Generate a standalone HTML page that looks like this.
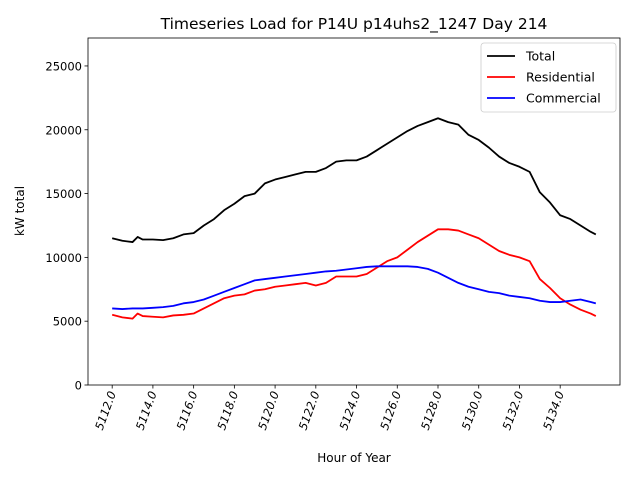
<!DOCTYPE html>
<html><head><meta charset="utf-8"><style>
body{margin:0;background:#fff;font-family:"DejaVu Sans","Liberation Sans",sans-serif;}
svg text{font-family:"DejaVu Sans","Liberation Sans",sans-serif;}
</style></head><body>
<svg id="chart" width="640" height="480" xmlns="http://www.w3.org/2000/svg"></svg>
<script>
const hours=[5112,5112.5,5113,5113.25,5113.5,5114,5114.5,5115,5115.5,5116,5116.5,5117,5117.5,5118,5118.5,5119,5119.5,5120,5120.5,5121,5121.5,5122,5122.5,5123,5123.5,5124,5124.5,5125,5125.5,5126,5126.5,5127,5127.5,5128,5128.5,5129,5129.5,5130,5130.5,5131,5131.5,5132,5132.5,5133,5133.5,5134,5134.5,5135,5135.5,5135.75];
const totalLoad=[11500,11300,11200,11600,11400,11400,11350,11500,11800,11900,12500,13000,13700,14200,14800,15000,15800,16100,16300,16500,16700,16700,17000,17500,17600,17600,17900,18400,18900,19400,19900,20300,20600,20900,20600,20400,19600,19200,18600,17900,17400,17100,16700,15100,14300,13300,13000,12500,12000,11800];
const residentialLoad=[5500,5300,5200,5600,5400,5350,5300,5450,5500,5600,6000,6400,6800,7000,7100,7400,7500,7700,7800,7900,8000,7800,8000,8500,8500,8500,8700,9200,9700,10000,10600,11200,11700,12200,12200,12100,11800,11500,11000,10500,10200,10000,9700,8300,7600,6800,6300,5900,5600,5400];
const commercialLoad=[6000,5950,6000,6000,6000,6050,6100,6200,6400,6500,6700,7000,7300,7600,7900,8200,8300,8400,8500,8600,8700,8800,8900,8950,9050,9150,9250,9300,9300,9300,9300,9250,9100,8800,8400,8000,7700,7500,7300,7200,7000,6900,6800,6600,6500,6500,6600,6700,6500,6400];
const xTicks=[5112,5114,5116,5118,5120,5122,5124,5126,5128,5130,5132,5134];
const yTicks=[0,5000,10000,15000,20000,25000];
const L=88,R=620,T=38,B=385;
const xmin=5110.8125,xmax=5136.9375,ymin=0,ymax=27190;
const sx=v=>L+(v-xmin)/(xmax-xmin)*(R-L);
const sy=v=>B-(v-ymin)/(ymax-ymin)*(B-T);
const NS="http://www.w3.org/2000/svg";
const svg=document.getElementById('chart');
function mk(tag,attrs,parent){const e=document.createElementNS(NS,tag);for(const k in attrs)e.setAttribute(k,attrs[k]);(parent||svg).appendChild(e);return e;}
let e=mk('text',{x:354,y:29,'text-anchor':'middle','font-size':15.5});
e.textContent='Timeseries Load for P14U p14uhs2_1247  Day 214';


const series=[[totalLoad,'#000','total-line'],[residentialLoad,'#f00','residential-line'],[commercialLoad,'#00f','commercial-line']];
series.forEach(s=>{
  const p=mk('polyline',{points:hours.map((h,i)=>sx(h)+','+sy(s[0][i])).join(' '),fill:'none',stroke:s[1],'stroke-width':1.8,'stroke-linejoin':'round'});
  
  
});
const frame=mk('rect',{x:L,y:T,width:R-L,height:B-T,fill:'none',stroke:'#000','stroke-width':0.8});


xTicks.forEach(t=>{
  const x=sx(t);
  mk('line',{x1:x,x2:x,y1:B,y2:B+3.5,stroke:'#000','stroke-width':0.8});
  const tx=mk('text',{transform:`translate(${x+4},${B+8}) rotate(-70)`,'text-anchor':'end','font-size':11.5,'font-style':'italic'});
  tx.textContent=t.toFixed(1);
  
  
});
yTicks.forEach(t=>{
  const y=sy(t);
  mk('line',{x1:L-3.5,x2:L,y1:y,y2:y,stroke:'#000','stroke-width':0.8});
  const tx=mk('text',{x:L-6,y:y+4.5,'text-anchor':'end','font-size':11.5});
  tx.textContent=t;
  
  
});
e=mk('text',{x:354,y:462,'text-anchor':'middle','font-size':12});
e.textContent='Hour of Year';


e=mk('text',{transform:'translate(24,211) rotate(-90)','text-anchor':'middle','font-size':12});
e.textContent='kW total';


const lg=mk('g',{});


mk('rect',{x:481,y:43,width:135,height:69,rx:3,fill:'#fff',stroke:'#ccc','stroke-width':0.8},lg);
[['Total','#000'],['Residential','#f00'],['Commercial','#00f']].forEach((it,i)=>{
  const y=56+i*21;
  mk('line',{x1:487,x2:515,y1:y,y2:y,stroke:it[1],'stroke-width':1.8},lg);
  const t=mk('text',{x:526,y:y+4.5,'font-size':12.5},lg);
  t.textContent=it[0];
  
  
});
</script>
</body></html>
